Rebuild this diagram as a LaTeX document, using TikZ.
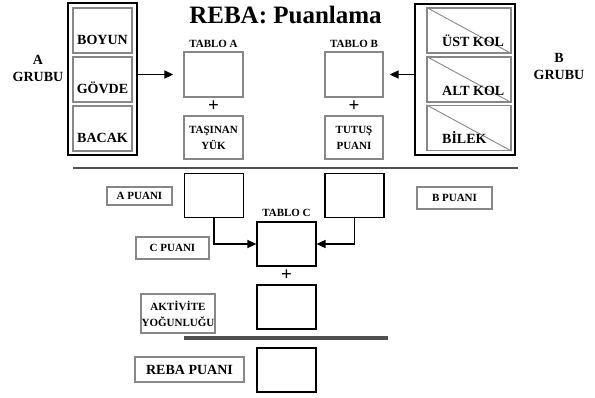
\documentclass[tikz,border=0pt]{standalone}
\usepackage{fontspec}
\setmainfont{Liberation Serif}
\usepackage{tikz}
\usetikzlibrary{arrows.meta,positioning,calc}
\definecolor{framegray}{RGB}{135,135,135}
\definecolor{rulegray}{RGB}{80,80,80}
\tikzset{
  partbox/.style={draw=framegray,line width=1.3pt,minimum width=59pt,
    minimum height=45pt,inner sep=0pt},
  armbox/.style={partbox,minimum width=84pt},
  tablebox/.style={draw=framegray,line width=1.3pt,minimum width=59pt,
    minimum height=45pt,inner sep=0pt,align=center,
    font=\bfseries\fontsize{11}{16}\selectfont},
  scorebox/.style={draw=black,line width=1.2pt,minimum width=59pt,
    minimum height=44pt,inner sep=0pt},
  namebox/.style={draw=framegray,line width=1.3pt,inner sep=0pt,align=center,
    font=\bfseries\fontsize{11}{16}\selectfont},
  groupframe/.style={draw=black,line width=2pt,inner sep=0pt},
  parttext/.style={anchor=base,inner sep=0pt,font=\bfseries\fontsize{14}{17}\selectfont},
  armtext/.style={parttext,anchor=base west},
  grouptext/.style={align=center,inner sep=0pt,font=\bfseries\fontsize{14}{17}\selectfont},
  headtext/.style={inner sep=0pt,font=\bfseries\fontsize{11}{13}\selectfont},
  plustext/.style={inner sep=0pt,font=\bfseries\fontsize{19}{19}\selectfont},
  titletext/.style={inner sep=0pt,font=\bfseries\fontsize{25}{28}\selectfont},
  diagline/.style={draw=framegray,line width=0.9pt},
  flowarrow/.style={-{Triangle[length=9pt,width=8pt]},line width=1.5pt,draw=black},
  rulethin/.style={draw=rulegray,line width=2.2pt},
  rulethick/.style={draw=rulegray,line width=3.5pt}
}

\begin{document}
\begin{tikzpicture}[x=1pt,y=-1pt]
  \useasboundingbox (0,0) rectangle (595,397);
  \node[titletext] (title) at (285.5,15.5) {REBA: Puanlama};

  % A grubu
  \node[groupframe,minimum width=69pt,minimum height=152pt] (agrup) at (102.5,79) {};
  \node[partbox] (boyun) at (102.5,30.5) {};
  \node[partbox] (govde) at (102.5,79.5) {};
  \node[partbox] (bacak) at (102.5,128.5) {};
  \node[parttext] at ([yshift=-14pt]boyun.center) {BOYUN};
  \node[parttext] at ([yshift=-14pt]govde.center) {GÖVDE};
  \node[parttext] at ([yshift=-14pt]bacak.center) {BACAK};
  \node[grouptext] (agrubu) at (38,68) {A\\GRUBU};

  % B grubu
  \node[groupframe,minimum width=100pt,minimum height=151pt] (bgrup) at (465,79.5) {};
  \node[armbox] (ustkol) at (469,30.5) {};
  \node[armbox] (altkol) at (469,79.5) {};
  \node[armbox] (bilek) at (469,128) {};
  \draw[diagline] (ustkol.north west) -- (ustkol.south east);
  \draw[diagline] (altkol.north west) -- (altkol.south east);
  \draw[diagline] (bilek.north west) -- (bilek.south east);
  \node[armtext] at ([xshift=-27pt,yshift=-16pt]ustkol.center) {ÜST KOL};
  \node[armtext] at ([xshift=-27pt,yshift=-16pt]altkol.center) {ALT KOL};
  \node[armtext] at ([xshift=-27pt,yshift=-15pt]bilek.center) {BİLEK};
  \node[grouptext] (bgrubu) at (559,66) {B\\GRUBU};

  % tablolar
  \node[tablebox] (tabloa) at (213.5,74.5) {};
  \node[headtext,above=4pt of tabloa] {TABLO A};
  \node[tablebox,minimum height=43pt] (tasinan) at (213.5,137.5) {TAŞINAN\\YÜK};
  \node[plustext] at ($(tabloa.south)!0.5!(tasinan.north)$) {+};
  \node[tablebox,minimum width=58pt] (tablob) at (354,74.5) {};
  \node[headtext,above=4pt of tablob] {TABLO B};
  \node[tablebox,minimum width=58pt,minimum height=43pt] (tutus) at (354,137.5) {TUTUŞ\\PUANI};
  \node[plustext] at ($(tablob.south)!0.5!(tutus.north)$) {+};
  \draw[flowarrow,shorten >=10pt] (agrup.east |- tabloa.west) -- (tabloa.west);
  \draw[flowarrow,shorten >=6pt] (bgrup.west |- tablob.east) -- (tablob.east);

  \draw[rulethin] (73,168) -- (518,168);

  % puanlar
  \node[scorebox] (apuan) at (214,195.5) {};
  \node[scorebox] (bpuan) at (354.5,195.5) {};
  \node[namebox,minimum width=65pt,minimum height=18pt] (apuanlabel) at (139.5,196) {A PUANI};
  \node[namebox,minimum width=75pt,minimum height=22pt] (bpuanlabel) at (454.5,198) {B PUANI};
  \node[scorebox] (tabloc) at (286.5,244) {};
  \node[headtext,above=5pt of tabloc] {TABLO C};
  \node[namebox,minimum width=73pt,minimum height=22pt] (cpuanlabel) at (172.5,248) {C PUANI};
  \draw[flowarrow] (apuan.south) |- (tabloc.west);
  \draw[flowarrow] (bpuan.south) |- (tabloc.east);

  \node[scorebox] (aktivite) at (286.5,307) {};
  \node[plustext] at ($(tabloc.south)!0.5!(aktivite.north)$) {+};
  \node[namebox,minimum width=74pt,minimum height=39pt] (aktivitelabel) at (178,313.5) {AKTİVİTE\\YOĞUNLUĞU};

  \draw[rulethick] (184,338) -- (388,338);

  \node[scorebox] (reba) at (286.5,370) {};
  \node[namebox,minimum width=109pt,minimum height=25pt,
    font=\bfseries\fontsize{14}{16}\selectfont] (rebalabel) at (189.5,369.5) {REBA PUANI};
\end{tikzpicture}
\end{document}
